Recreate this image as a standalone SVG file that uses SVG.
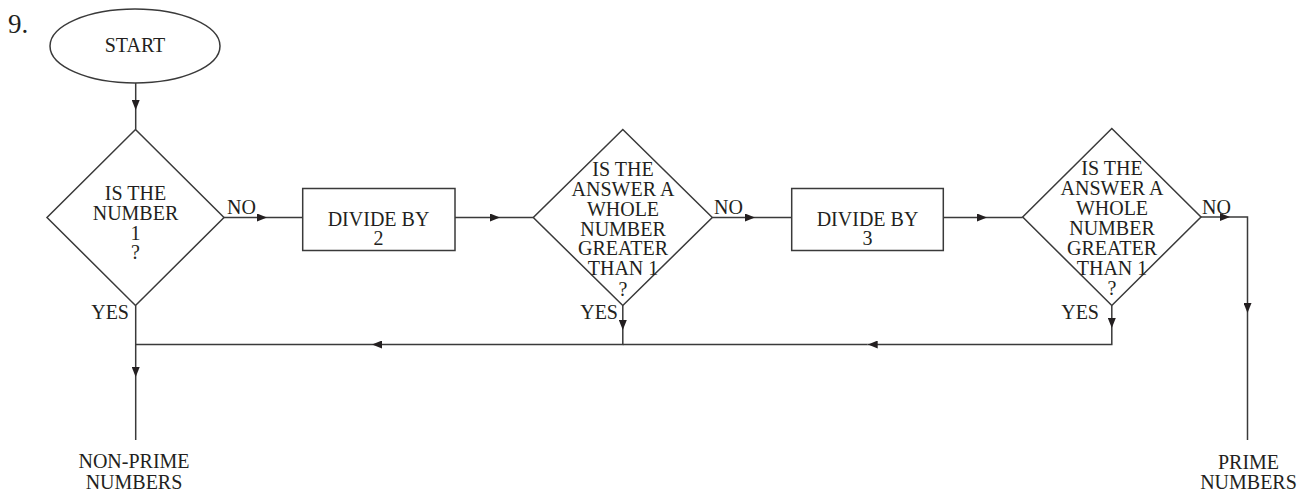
<svg xmlns="http://www.w3.org/2000/svg" width="1315" height="494" viewBox="0 0 1315 494">
<style>
.shape{fill:none;stroke:#3a3a3a;stroke-width:1.5}
.ln{fill:none;stroke:#3a3a3a;stroke-width:1.5}
.arr{marker-end:url(#ah)}
text{font-family:"Liberation Serif","Times New Roman",serif;font-size:20px;fill:#231f20}
.c{text-anchor:middle}
.e{text-anchor:end}
</style>
<defs>
<marker id="ah" viewBox="0 0 10 8" refX="10" refY="4" markerWidth="10" markerHeight="8" markerUnits="userSpaceOnUse" orient="auto">
<path d="M0,0 L10,4 L0,8 z" fill="#231f20"/>
</marker>
</defs>
<rect width="1315" height="494" fill="#fff"/>
<text x="8" y="33" style="font-size:27px">9.</text>
<g id="start">
<ellipse class="shape" cx="135" cy="46" rx="85" ry="37"/>
<text class="c" x="135" y="52">START</text>
</g>
<g id="d1">
<polygon class="shape" points="135.5,129.5 224,217.5 135.5,305.5 47,217.5"/>
<text class="c" x="135.5" y="200">IS THE</text>
<text class="c" x="135.5" y="220">NUMBER</text>
<text class="c" x="135.5" y="239.5">1</text>
<text class="c" x="135.5" y="259">?</text>
</g>
<g id="box1">
<rect class="shape" x="302.7" y="188.5" width="152.3" height="62"/>
<text class="c" x="378.5" y="225.5">DIVIDE BY</text>
<text class="c" x="378.5" y="245">2</text>
</g>
<g id="d2">
<polygon class="shape" points="622.8,129.5 712.3,217.5 622.8,305.5 533.3,217.5"/>
<text class="c" x="623" y="176">IS THE</text>
<text class="c" x="623" y="196">ANSWER A</text>
<text class="c" x="623" y="216">WHOLE</text>
<text class="c" x="623" y="235.5">NUMBER</text>
<text class="c" x="623" y="255">GREATER</text>
<text class="c" x="623" y="275">THAN 1</text>
<text class="c" x="623" y="296">?</text>
</g>
<g id="box2">
<rect class="shape" x="791.7" y="188.5" width="151.6" height="62"/>
<text class="c" x="867.5" y="225.5">DIVIDE BY</text>
<text class="c" x="867.5" y="245">3</text>
</g>
<g id="d3">
<polygon class="shape" points="1111.8,128.5 1201,217 1111.8,305.5 1022.7,217"/>
<text class="c" x="1112" y="174.5">IS THE</text>
<text class="c" x="1112" y="194.5">ANSWER A</text>
<text class="c" x="1112" y="214.5">WHOLE</text>
<text class="c" x="1112" y="234.5">NUMBER</text>
<text class="c" x="1112" y="254.5">GREATER</text>
<text class="c" x="1112" y="274.5">THAN 1</text>
<text class="c" x="1112" y="295">?</text>
</g>
<g id="nonprime">
<text class="c" x="134" y="468">NON-PRIME</text>
<text class="c" x="134" y="489">NUMBERS</text>
</g>
<g id="prime">
<text class="c" x="1248.5" y="469">PRIME</text>
<text class="c" x="1248.5" y="489">NUMBERS</text>
</g>
<g id="connectors">
<path class="ln arr" d="M135.7,83 V110"/>
<path class="ln" d="M135.7,110 V129.5"/>
<path class="ln arr" d="M224,217.5 H267"/>
<path class="ln" d="M267,217.5 H302.7"/>
<path class="ln arr" d="M455,217.5 H500"/>
<path class="ln" d="M500,217.5 H533.3"/>
<path class="ln arr" d="M712.3,217.5 H755"/>
<path class="ln" d="M755,217.5 H791.7"/>
<path class="ln arr" d="M943.3,217.5 H987"/>
<path class="ln" d="M987,217.5 H1022.7"/>
<path class="ln arr" d="M1201,217 H1230"/>
<path class="ln arr" d="M1230,217 H1247.5 V313"/>
<path class="ln" d="M1247.5,313 V440"/>
<path class="ln arr" d="M135.7,305.5 V377"/>
<path class="ln" d="M135.7,377 V440"/>
<path class="ln arr" d="M622.8,305.5 V330"/>
<path class="ln arr" d="M622.8,330 V344.5 H372"/>
<path class="ln" d="M372,344.5 H135.7"/>
<path class="ln arr" d="M1111.8,305.5 V328"/>
<path class="ln arr" d="M1111.8,328 V344.5 H867.7"/>
<path class="ln" d="M867.7,344.5 H622.8"/>
<text x="227" y="213.5">NO</text>
<text x="714" y="213.5">NO</text>
<text x="1202" y="213.5">NO</text>
<text class="e" x="129" y="319">YES</text>
<text class="e" x="618" y="319">YES</text>
<text class="e" x="1099" y="319">YES</text>
</g>
</svg>
